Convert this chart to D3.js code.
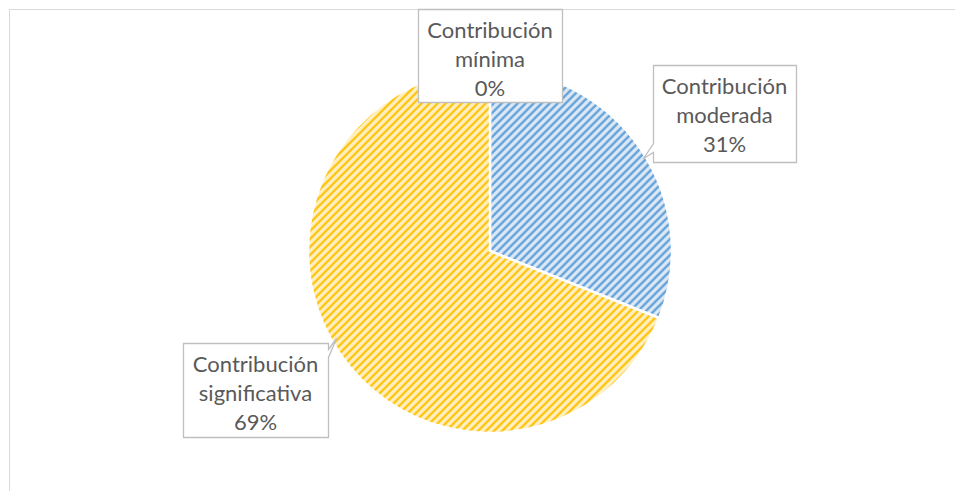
<!DOCTYPE html>
<html>
<head>
<meta charset="utf-8">
<script src="https://cdn.jsdelivr.net/npm/d3@7/dist/d3.min.js"></script>
<style>
  html, body { margin: 0; padding: 0; background: #fff; }
  svg { display: block; }
</style>
</head>
<body>
<script>
const
  WIDTH = 955,
  HEIGHT = 491;

// chart data
const categories = ['Contribución mínima', 'Contribución moderada', 'Contribución significativa'];
const values = [0, 31, 69];
const labelLines = [
  ['Contribución', 'mínima', '0%'],
  ['Contribución', 'moderada', '31%'],
  ['Contribución', 'significativa', '69%']
];
const fills = [
  { fg: '#5b9bd5', bg: '#dae8f6' },
  { fg: '#5b9bd5', bg: '#dae8f6' },
  { fg: '#ffc000', bg: '#fff0c4' }
];

const svg = d3.select('body').append('svg')
  .attr('width', WIDTH)
  .attr('height', HEIGHT);

// hatch patterns (wide upward diagonal)
const defs = svg.append('defs');
fills.forEach((f, i) => {
  let p = defs.append('pattern')
    .attr('id', `hatch${i}`)
    .attr('patternUnits', 'userSpaceOnUse')
    .attr('width', 8)
    .attr('height', 8);
  p.append('rect').attr('width', 8).attr('height', 8).attr('fill', f.bg);
  p.append('path')
    .attr('d', 'M-2,2 L2,-2 M0,8 L8,0 M6,10 L10,6')
    .attr('stroke', f.fg)
    .attr('stroke-opacity', 0.85)
    .attr('stroke-width', 2.6);
});

// chart area border
svg.append('rect')
  .attr('x', 9.5).attr('y', 9.5)
  .attr('width', WIDTH + 10).attr('height', HEIGHT + 10)
  .attr('fill', 'none')
  .attr('stroke', '#d9d9d9')
  .attr('stroke-width', 1);

const cx = 490, cy = 251, radius = 182;

const pie = d3.pie().sort(null).value((d) => d)(values);
const arc = d3.arc().innerRadius(0).outerRadius(radius);

const g = svg.append('g').attr('transform', `translate(${cx},${cy})`);

g.selectAll('path.slice')
  .data(pie)
  .enter()
  .append('path')
  .attr('class', 'slice')
  .attr('d', arc)
  .attr('fill', (d, i) => `url(#hatch${i})`)
  .attr('stroke', '#fff')
  .attr('stroke-width', (d) => d.value ? 2.5 : 0);

// data label callouts: box + pointer tip
const boxes = [
  { x: 418, y: 9, w: 144, h: 93, tip: null },
  { x: 653, y: 65, w: 143, h: 97, tip: [643, 158], side: 'left', a: 143, b: 152 },
  { x: 183, y: 343, w: 145, h: 94, tip: [336, 338], side: 'right', a: 349, b: 357 }
];

const labels = svg.append('g');

boxes.forEach((b, i) => {
  let pts;
  if (!b.tip) {
    pts = [[b.x, b.y], [b.x + b.w, b.y], [b.x + b.w, b.y + b.h], [b.x, b.y + b.h]];
  } else if (b.side === 'left') {
    pts = [[b.x, b.y], [b.x + b.w, b.y], [b.x + b.w, b.y + b.h], [b.x, b.y + b.h],
      [b.x, b.b], b.tip, [b.x, b.a]];
  } else {
    pts = [[b.x, b.y], [b.x + b.w, b.y], [b.x + b.w, b.a], b.tip, [b.x + b.w, b.b],
      [b.x + b.w, b.y + b.h], [b.x, b.y + b.h]];
  }
  labels.append('path')
    .attr('d', d3.line()(pts) + 'Z')
    .attr('fill', '#fff')
    .attr('stroke', '#bfbfbf')
    .attr('stroke-width', 1.3)
    .attr('transform', 'translate(0.5,0.5)');

  let text = labels.append('text')
    .attr('text-anchor', 'middle')
    .attr('font-family', 'Lato, "Open Sans", sans-serif')
    .attr('font-size', 22)
    .attr('fill', '#595959');

  labelLines[i].forEach((line, j) => {
    text.append('tspan')
      .attr('x', b.x + b.w / 2)
      .attr('y', b.y + 29 + j * 29)
      .text(line);
  });
});
</script>
</body>
</html>
